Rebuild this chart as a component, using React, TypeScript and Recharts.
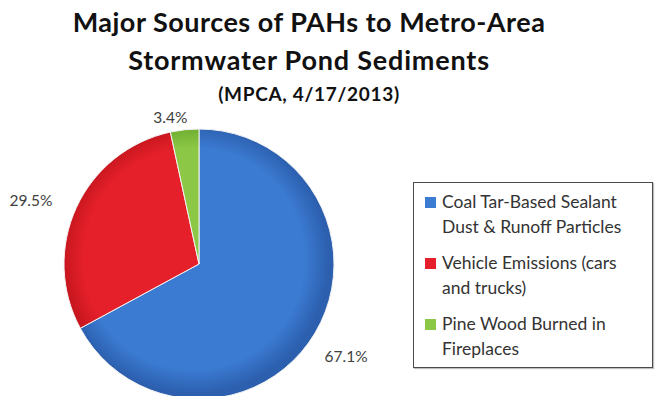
import { Cell, Legend, Pie, PieChart } from 'recharts'

const sources = [
  'Coal Tar-Based Sealant Dust & Runoff Particles',
  'Vehicle Emissions (cars and trucks)',
  'Pine Wood Burned in Fireplaces',
]
const shares = [67.1, 29.5, 3.4]
const colors = ['#3b7bd2', '#e5202a', '#8cc846']
const rimColors = ['#2c5fae', '#c0141c', '#6aa92e']
const titleLines = ['Major Sources of PAHs to Metro-Area', 'Stormwater Pond Sediments']
const subtitle = '(MPCA, 4/17/2013)'

const data = sources.map((name, i) => ({ name, value: shares[i] }))

const W = 656
const H = 396
const CX = 194
const CY = 259
const R = 135
const FONT = 'Lato, "Open Sans", sans-serif'

const RADIAN = Math.PI / 180

// data labels sit just outside the rim; left-side ones drift a bit lower/left like Excel's
const renderLabel = (props: any) => {
  const { cx, cy, midAngle, outerRadius, value } = props
  const cos = Math.cos(-midAngle * RADIAN)
  const sin = Math.sin(-midAngle * RADIAN)
  const text = `${Number(value).toFixed(1)}%`
  const w = text.length * 9.6
  const h = 14
  const d = outerRadius + 12 + (Math.abs(cos) * w) / 2 + (Math.abs(sin) * h) / 2
  const left = cos < 0
  return (
    <text
      x={cx + d * cos - (left ? 12 : 0)}
      y={cy + d * sin + (left ? 8 : 4)}
      textAnchor="middle"
      dominantBaseline="central"
      fill="#404040"
      fontSize={15.5}
      fontFamily={FONT}
    >
      {text}
    </text>
  )
}

const LegendBox = () => (
  <div
    style={{
      border: '1px solid #4a4a4a',
      boxShadow: '1px 1px 1px rgba(0,0,0,0.25)',
      width: 240,
      height: 186,
      boxSizing: 'border-box',
      padding: '6px 8px 0 11px',
      fontFamily: FONT,
      fontSize: 17.5,
      lineHeight: '25px',
      color: '#333',
      background: '#fff',
    }}
  >
    {sources.map((name, i) => (
      <div key={name} style={{ display: 'flex', marginBottom: 11 }}>
        <span
          style={{
            display: 'inline-block',
            width: 11,
            height: 11,
            marginTop: 8,
            marginRight: 6,
            flexShrink: 0,
            background: colors[i],
          }}
        />
        <span style={{ width: 200 }}>{name}</span>
      </div>
    ))}
  </div>
)

export default function App() {
  return (
    <div style={{ position: 'absolute', left: 0, top: 0, width: W, height: H, background: '#fff' }}>
      <svg
        width={W}
        height={120}
        style={{ position: 'absolute', left: 0, top: 0, pointerEvents: 'none' }}
      >
        <text x={309} y={32} textAnchor="middle" fontFamily={FONT} fontWeight={700} fontSize={27} letterSpacing={0.5} fill="#111">
          {titleLines[0]}
        </text>
        <text x={309} y={70} textAnchor="middle" fontFamily={FONT} fontWeight={700} fontSize={27} letterSpacing={0.8} fill="#111">
          {titleLines[1]}
        </text>
        <text x={309} y={101} textAnchor="middle" fontFamily={FONT} fontWeight={700} fontSize={19} letterSpacing={0.7} fill="#111">
          {subtitle}
        </text>
      </svg>
      <PieChart width={W} height={H} style={{ position: 'absolute', left: 0, top: 0 }}>
        <defs>
          {colors.map((c, i) => (
            <radialGradient
              key={i}
              id={`slice-${i}`}
              gradientUnits="userSpaceOnUse"
              cx={CX}
              cy={CY}
              r={R}
            >
              <stop offset="0%" stopColor={c} />
              <stop offset="82%" stopColor={c} />
              <stop offset="100%" stopColor={rimColors[i]} />
            </radialGradient>
          ))}
        </defs>
        <Pie
          data={data}
          dataKey="value"
          nameKey="name"
          cx={CX}
          cy={CY}
          outerRadius={R}
          startAngle={90}
          endAngle={-270}
          stroke="#f2f2f2"
          strokeWidth={1}
          label={renderLabel}
          labelLine={false}
          isAnimationActive={false}
        >
          {data.map((_, i) => (
            <Cell key={i} fill={`url(#slice-${i})`} />
          ))}
        </Pie>
        <Legend
          content={<LegendBox />}
          wrapperStyle={{ position: 'absolute', left: 413, top: 182, width: 242, height: 188 }}
        />
      </PieChart>
    </div>
  )
}
